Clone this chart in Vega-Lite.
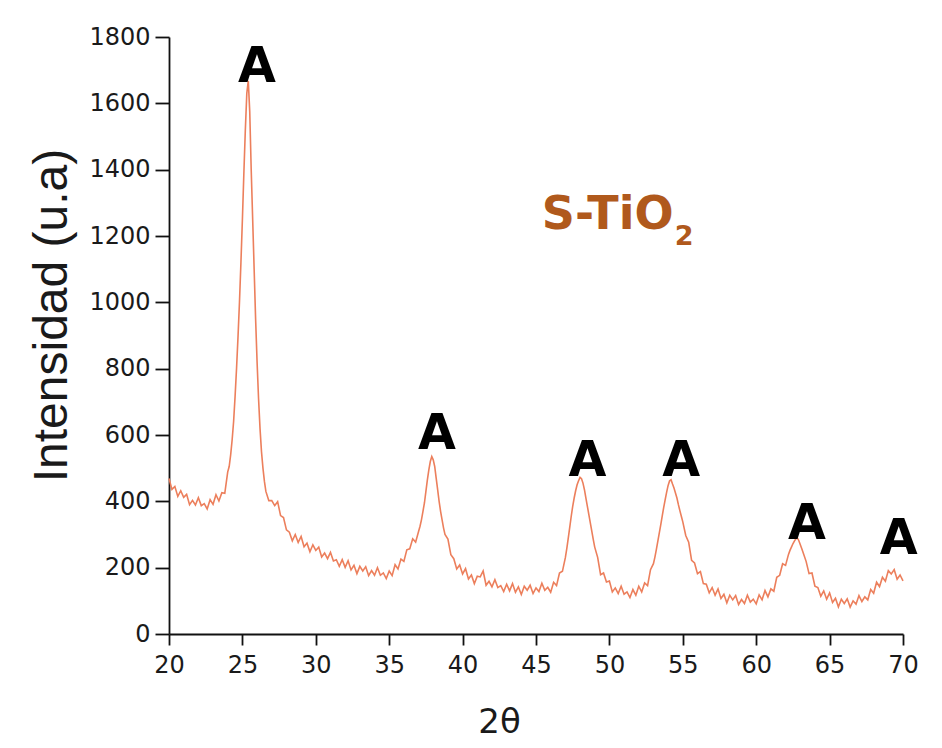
{
  "$schema": "https://vega.github.io/schema/vega-lite/v6.json",
  "width": 734,
  "height": 597,
  "autosize": {"type": "none"},
  "padding": {"left": 169, "top": 37, "right": 39, "bottom": 114},
  "background": "white",
  "config": {"view": {"stroke": null}},
  "datasets": {
    "xrd": [
      {"t":20.0,"i":469},{"t":20.2,"i":436},{"t":20.4,"i":445},{"t":20.6,"i":415},{"t":20.8,"i":432},
      {"t":21.0,"i":412},{"t":21.2,"i":421},{"t":21.4,"i":390},{"t":21.6,"i":403},{"t":21.8,"i":389},
      {"t":22.0,"i":411},{"t":22.2,"i":387},{"t":22.4,"i":393},{"t":22.6,"i":377},{"t":22.8,"i":405},
      {"t":23.0,"i":391},{"t":23.2,"i":420},{"t":23.4,"i":401},{"t":23.6,"i":426},{"t":23.8,"i":424},
      {"t":24.0,"i":489},{"t":24.1,"i":505},{"t":24.2,"i":540},{"t":24.3,"i":585},{"t":24.4,"i":640},
      {"t":24.5,"i":715},{"t":24.6,"i":800},{"t":24.7,"i":895},{"t":24.8,"i":1000},{"t":24.9,"i":1120},
      {"t":25.0,"i":1250},{"t":25.1,"i":1390},{"t":25.2,"i":1520},{"t":25.3,"i":1630},{"t":25.4,"i":1668},
      {"t":25.5,"i":1575},{"t":25.6,"i":1400},{"t":25.7,"i":1250},{"t":25.8,"i":1100},{"t":25.9,"i":950},
      {"t":26.0,"i":820},{"t":26.1,"i":710},{"t":26.2,"i":620},{"t":26.3,"i":550},{"t":26.4,"i":500},
      {"t":26.5,"i":460},{"t":26.6,"i":430},{"t":26.8,"i":402},{"t":27.0,"i":402},{"t":27.2,"i":387},
      {"t":27.4,"i":399},{"t":27.6,"i":357},{"t":27.8,"i":351},{"t":28.0,"i":314},{"t":28.2,"i":307},
      {"t":28.4,"i":281},{"t":28.6,"i":300},{"t":28.8,"i":276},{"t":29.0,"i":294},{"t":29.2,"i":263},
      {"t":29.4,"i":274},{"t":29.6,"i":248},{"t":29.8,"i":269},{"t":30.0,"i":252},{"t":30.2,"i":262},
      {"t":30.4,"i":232},{"t":30.6,"i":244},{"t":30.8,"i":227},{"t":31.0,"i":246},{"t":31.2,"i":220},
      {"t":31.4,"i":224},{"t":31.6,"i":204},{"t":31.8,"i":224},{"t":32.0,"i":201},{"t":32.2,"i":221},
      {"t":32.4,"i":193},{"t":32.6,"i":207},{"t":32.8,"i":182},{"t":33.0,"i":204},{"t":33.2,"i":190},
      {"t":33.4,"i":203},{"t":33.6,"i":176},{"t":33.8,"i":191},{"t":34.0,"i":177},{"t":34.2,"i":200},
      {"t":34.4,"i":177},{"t":34.6,"i":184},{"t":34.8,"i":167},{"t":35.0,"i":190},{"t":35.2,"i":176},
      {"t":35.4,"i":209},{"t":35.6,"i":196},{"t":35.8,"i":226},{"t":36.0,"i":219},{"t":36.2,"i":254},
      {"t":36.4,"i":257},{"t":36.6,"i":287},{"t":36.8,"i":277},{"t":37.0,"i":309},{"t":37.1,"i":325},
      {"t":37.2,"i":345},{"t":37.3,"i":370},{"t":37.4,"i":395},{"t":37.5,"i":430},{"t":37.6,"i":465},
      {"t":37.7,"i":495},{"t":37.8,"i":520},{"t":37.9,"i":535},{"t":38.0,"i":525},{"t":38.1,"i":505},
      {"t":38.2,"i":470},{"t":38.3,"i":435},{"t":38.4,"i":400},{"t":38.5,"i":370},{"t":38.6,"i":345},
      {"t":38.7,"i":320},{"t":38.8,"i":300},{"t":39.0,"i":286},{"t":39.2,"i":239},{"t":39.4,"i":227},
      {"t":39.6,"i":196},{"t":39.8,"i":208},{"t":40.0,"i":181},{"t":40.2,"i":197},{"t":40.4,"i":166},
      {"t":40.6,"i":178},{"t":40.8,"i":152},{"t":41.0,"i":174},{"t":41.2,"i":172},{"t":41.4,"i":190},
      {"t":41.6,"i":147},{"t":41.8,"i":159},{"t":42.0,"i":142},{"t":42.2,"i":164},{"t":42.4,"i":140},
      {"t":42.6,"i":146},{"t":42.8,"i":128},{"t":43.0,"i":150},{"t":43.2,"i":130},{"t":43.4,"i":152},
      {"t":43.6,"i":126},{"t":43.8,"i":142},{"t":44.0,"i":119},{"t":44.2,"i":144},{"t":44.4,"i":132},
      {"t":44.6,"i":147},{"t":44.8,"i":122},{"t":45.0,"i":139},{"t":45.2,"i":128},{"t":45.4,"i":153},
      {"t":45.6,"i":132},{"t":45.8,"i":141},{"t":46.0,"i":126},{"t":46.2,"i":156},{"t":46.4,"i":146},
      {"t":46.6,"i":184},{"t":46.8,"i":189},{"t":47.0,"i":230},{"t":47.1,"i":258},{"t":47.2,"i":290},
      {"t":47.3,"i":322},{"t":47.4,"i":355},{"t":47.5,"i":385},{"t":47.6,"i":410},{"t":47.7,"i":432},
      {"t":47.8,"i":450},{"t":47.9,"i":462},{"t":48.0,"i":472},{"t":48.1,"i":468},{"t":48.2,"i":455},
      {"t":48.3,"i":435},{"t":48.4,"i":410},{"t":48.5,"i":385},{"t":48.6,"i":360},{"t":48.7,"i":335},
      {"t":48.8,"i":310},{"t":48.9,"i":285},{"t":49.0,"i":262},{"t":49.2,"i":231},{"t":49.4,"i":179},
      {"t":49.6,"i":184},{"t":49.8,"i":157},{"t":50.0,"i":160},{"t":50.2,"i":127},{"t":50.4,"i":139},
      {"t":50.6,"i":122},{"t":50.8,"i":144},{"t":51.0,"i":120},{"t":51.2,"i":127},{"t":51.4,"i":110},
      {"t":51.6,"i":134},{"t":51.8,"i":117},{"t":52.0,"i":144},{"t":52.2,"i":127},{"t":52.4,"i":154},
      {"t":52.6,"i":146},{"t":52.8,"i":194},{"t":53.0,"i":212},{"t":53.1,"i":232},{"t":53.2,"i":255},
      {"t":53.3,"i":280},{"t":53.4,"i":305},{"t":53.5,"i":330},{"t":53.6,"i":356},{"t":53.7,"i":382},
      {"t":53.8,"i":405},{"t":53.9,"i":428},{"t":54.0,"i":448},{"t":54.1,"i":462},{"t":54.2,"i":465},
      {"t":54.3,"i":452},{"t":54.4,"i":440},{"t":54.5,"i":425},{"t":54.6,"i":410},{"t":54.7,"i":390},
      {"t":54.8,"i":372},{"t":54.9,"i":355},{"t":55.0,"i":338},{"t":55.2,"i":297},{"t":55.4,"i":277},
      {"t":55.6,"i":222},{"t":55.8,"i":214},{"t":56.0,"i":182},{"t":56.2,"i":188},{"t":56.4,"i":152},
      {"t":56.6,"i":150},{"t":56.8,"i":124},{"t":57.0,"i":140},{"t":57.2,"i":117},{"t":57.4,"i":136},
      {"t":57.6,"i":107},{"t":57.8,"i":120},{"t":58.0,"i":94},{"t":58.2,"i":117},{"t":58.4,"i":103},
      {"t":58.6,"i":116},{"t":58.8,"i":89},{"t":59.0,"i":104},{"t":59.2,"i":92},{"t":59.4,"i":117},
      {"t":59.6,"i":96},{"t":59.8,"i":105},{"t":60.0,"i":91},{"t":60.2,"i":118},{"t":60.4,"i":103},
      {"t":60.6,"i":131},{"t":60.8,"i":112},{"t":61.0,"i":136},{"t":61.2,"i":129},{"t":61.4,"i":171},
      {"t":61.6,"i":177},{"t":61.8,"i":212},{"t":62.0,"i":207},{"t":62.2,"i":240},{"t":62.3,"i":252},
      {"t":62.4,"i":262},{"t":62.5,"i":272},{"t":62.6,"i":280},{"t":62.7,"i":287},{"t":62.8,"i":290},
      {"t":62.9,"i":282},{"t":63.0,"i":270},{"t":63.1,"i":258},{"t":63.2,"i":245},{"t":63.4,"i":219},
      {"t":63.6,"i":182},{"t":63.8,"i":184},{"t":64.0,"i":144},{"t":64.2,"i":140},{"t":64.4,"i":114},
      {"t":64.6,"i":130},{"t":64.8,"i":105},{"t":65.0,"i":124},{"t":65.2,"i":95},{"t":65.4,"i":108},
      {"t":65.6,"i":82},{"t":65.8,"i":105},{"t":66.0,"i":92},{"t":66.2,"i":106},{"t":66.4,"i":81},
      {"t":66.6,"i":100},{"t":66.8,"i":90},{"t":67.0,"i":116},{"t":67.2,"i":98},{"t":67.4,"i":112},
      {"t":67.6,"i":103},{"t":67.8,"i":134},{"t":68.0,"i":123},{"t":68.2,"i":156},{"t":68.4,"i":143},
      {"t":68.6,"i":171},{"t":68.8,"i":159},{"t":69.0,"i":191},{"t":69.2,"i":181},{"t":69.4,"i":194},
      {"t":69.6,"i":165},{"t":69.8,"i":178},{"t":70.0,"i":160}
    ],
    "peaks": [
      {"t":26.0,"i":1664,"label":"A"},
      {"t":38.25,"i":558,"label":"A"},
      {"t":48.5,"i":476,"label":"A"},
      {"t":54.9,"i":476,"label":"A"},
      {"t":63.46,"i":286,"label":"A"},
      {"t":69.7,"i":241,"label":"A"}
    ],
    "sample": [
      {"t":45.4,"i":1221,"label":"S-TiO"}
    ],
    "subscript": [
      {"t":54.45,"i":1173,"label":"2"}
    ]
  },
  "layer": [
    {
      "data": {"name": "xrd"},
      "mark": {"type": "line", "color": "#ec7f5c", "strokeWidth": 1.6, "interpolate": "linear"},
      "encoding": {
        "x": {
          "field": "t", "type": "quantitative",
          "scale": {"domain": [20, 70], "nice": false, "zero": false},
          "axis": {
            "title": "2θ",
            "values": [20,22.5,25,27.5,30,32.5,35,37.5,40,42.5,45,47.5,50,52.5,55,57.5,60,62.5,65,67.5,70],
            "labelExpr": "datum.value % 5 === 0 ? datum.label : ''",
            "ticks": true,
            "tickSize": 11,
            "encode": {"ticks": {"update": {"y2": {"signal": "datum.value % 5 === 0 ? 11 : 6"}}}},
            "grid": false,
            "domainColor": "#111", "domainWidth": 1.8,
            "tickColor": "#111", "tickWidth": 1.8,
            "labelFont": "DejaVu Sans", "labelFontSize": 24, "labelColor": "#1a1a1a",
            "labelPadding": 8, "labelFlush": false, "labelOverlap": false,
            "titleFont": "DejaVu Sans", "titleFontSize": 34, "titleFontWeight": "normal", "titleColor": "#1a1a1a",
            "titleX": 330, "titleY": 98, "titleBaseline": "alphabetic", "titleAlign": "center"
          }
        },
        "y": {
          "field": "i", "type": "quantitative",
          "scale": {"domain": [0, 1800], "nice": false, "zero": true},
          "axis": {
            "title": "Intensidad  (u.a)",
            "values": [0,100,200,300,400,500,600,700,800,900,1000,1100,1200,1300,1400,1500,1600,1700,1800],
            "labelExpr": "datum.value % 200 === 0 ? datum.label : ''",
            "format": "d",
            "ticks": true,
            "tickSize": 14,
            "encode": {"ticks": {"update": {"x2": {"signal": "datum.value % 200 === 0 ? -14 : -9"}}}},
            "grid": false,
            "domainColor": "#111", "domainWidth": 1.8,
            "tickColor": "#111", "tickWidth": 1.8,
            "labelFont": "DejaVu Sans", "labelFontSize": 24, "labelColor": "#1a1a1a",
            "labelPadding": 5, "labelFlush": false, "labelOverlap": false,
            "titleFont": "Liberation Sans", "titleFontSize": 48, "titleFontWeight": "normal", "titleColor": "#1a1a1a",
            "titleX": -93, "titleY": 278, "titleBaseline": "bottom", "titleAlign": "center", "titleAngle": -90
          }
        }
      }
    },
    {
      "data": {"name": "peaks"},
      "mark": {"type": "text", "font": "DejaVu Sans", "fontWeight": "bold", "fontSize": 49, "color": "#000", "align": "center", "baseline": "alphabetic"},
      "encoding": {
        "x": {"field": "t", "type": "quantitative"},
        "y": {"field": "i", "type": "quantitative"},
        "text": {"field": "label"}
      }
    },
    {
      "data": {"name": "sample"},
      "mark": {"type": "text", "font": "DejaVu Sans", "fontWeight": "bold", "fontSize": 46, "color": "#b0591c", "align": "left", "baseline": "alphabetic"},
      "encoding": {
        "x": {"field": "t", "type": "quantitative"},
        "y": {"field": "i", "type": "quantitative"},
        "text": {"field": "label"}
      }
    },
    {
      "data": {"name": "subscript"},
      "mark": {"type": "text", "font": "DejaVu Sans", "fontWeight": "bold", "fontSize": 27, "color": "#b0591c", "align": "left", "baseline": "alphabetic"},
      "encoding": {
        "x": {"field": "t", "type": "quantitative"},
        "y": {"field": "i", "type": "quantitative"},
        "text": {"field": "label"}
      }
    }
  ]
}
